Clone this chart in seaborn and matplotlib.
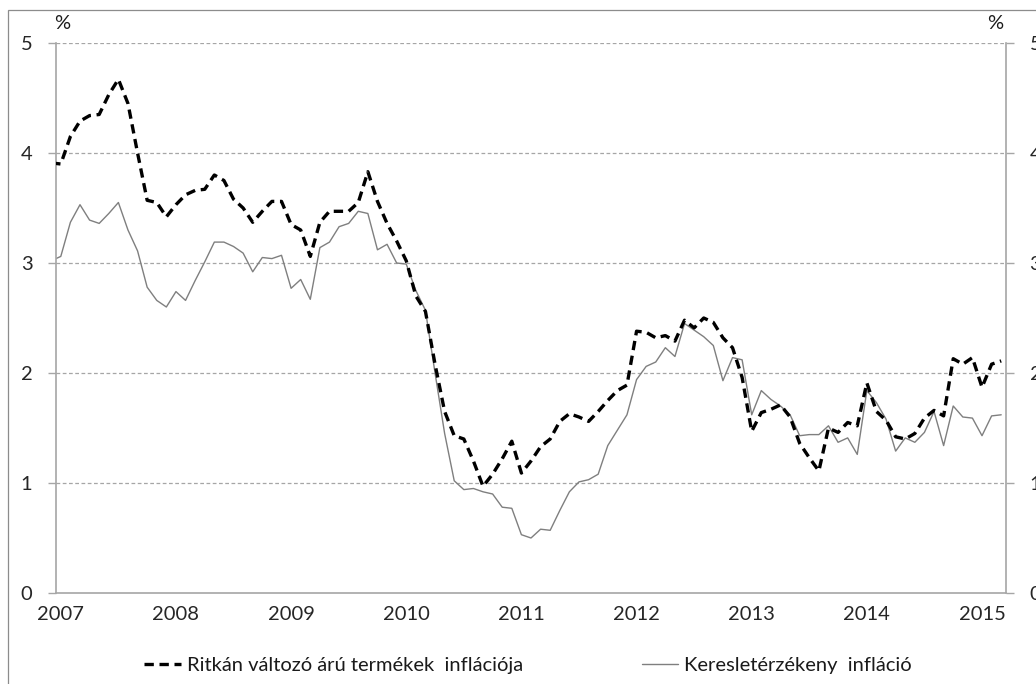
import numpy as np
import pandas as pd
import seaborn as sns
import matplotlib.pyplot as plt
from matplotlib.patches import Rectangle

# monthly data, Dec 2006 - Mar 2015 (the Dec 2006 point is only partly visible at the left edge)
months = pd.period_range("2006-12", "2015-03", freq="M")

# Ritkán változó árú termékek inflációja (%)
rare_change = [
    3.91,
    3.90, 4.15, 4.29, 4.34, 4.35, 4.53, 4.67, 4.45, 4.00, 3.57, 3.55, 3.42,   # 2007
    3.53, 3.62, 3.66, 3.67, 3.80, 3.75, 3.58, 3.50, 3.37, 3.47, 3.56, 3.56,   # 2008
    3.35, 3.30, 3.06, 3.37, 3.47, 3.47, 3.47, 3.55, 3.83, 3.56, 3.36, 3.20,   # 2009
    3.02, 2.70, 2.56, 2.08, 1.65, 1.43, 1.40, 1.20, 0.97, 1.08, 1.22, 1.38,   # 2010
    1.09, 1.20, 1.33, 1.40, 1.56, 1.63, 1.60, 1.56, 1.65, 1.75, 1.84, 1.89,   # 2011
    2.38, 2.37, 2.32, 2.34, 2.29, 2.48, 2.41, 2.50, 2.46, 2.32, 2.23, 1.96,   # 2012
    1.47, 1.64, 1.67, 1.71, 1.60, 1.36, 1.23, 1.11, 1.50, 1.46, 1.55, 1.52,   # 2013
    1.91, 1.65, 1.57, 1.42, 1.40, 1.45, 1.59, 1.66, 1.61, 2.13, 2.08, 2.14,   # 2014
    1.87, 2.08, 2.11,                                                         # 2015
]

# Keresletérzékeny infláció (%)
demand_sensitive = [
    3.02,
    3.06, 3.37, 3.53, 3.39, 3.36, 3.45, 3.55, 3.30, 3.11, 2.78, 2.66, 2.60,   # 2007
    2.74, 2.66, 2.84, 3.01, 3.19, 3.19, 3.15, 3.09, 2.92, 3.05, 3.04, 3.07,   # 2008
    2.77, 2.85, 2.67, 3.14, 3.19, 3.33, 3.36, 3.47, 3.45, 3.12, 3.17, 3.00,   # 2009
    2.99, 2.75, 2.57, 2.00, 1.45, 1.02, 0.94, 0.95, 0.92, 0.90, 0.78, 0.77,   # 2010
    0.53, 0.50, 0.58, 0.57, 0.75, 0.92, 1.01, 1.03, 1.08, 1.34, 1.48, 1.62,   # 2011
    1.94, 2.06, 2.10, 2.23, 2.15, 2.45, 2.39, 2.33, 2.25, 1.93, 2.14, 2.12,   # 2012
    1.62, 1.84, 1.76, 1.70, 1.62, 1.43, 1.44, 1.44, 1.52, 1.37, 1.41, 1.26,   # 2013
    1.84, 1.73, 1.58, 1.29, 1.41, 1.37, 1.46, 1.65, 1.34, 1.70, 1.60, 1.59,   # 2014
    1.43, 1.61, 1.62,                                                         # 2015
]

year_labels = ["2007", "2008", "2009", "2010", "2011", "2012", "2013", "2014", "2015"]
y_ticks = [0, 1, 2, 3, 4, 5]

label_rare = "Ritkán változó árú termékek  inflációja"
label_demand = "Keresletérzékeny  infláció"

df = pd.DataFrame({
    "pos": np.arange(len(months)) - 1,   # Jan 2007 = 0
    "rare": rare_change,
    "demand": demand_sensitive,
})

sns.set_style("white")
plt.rcParams["font.family"] = ["Lato", "DejaVu Sans"]
plt.rcParams["text.color"] = "#1a1a1a"
fs = 14.5

fig = plt.figure(figsize=(10.36, 6.84), dpi=100)
ax = fig.add_axes([56 / 1036, 1 - 593 / 684, 950 / 1036, 550 / 684])

# outer chart frame (the reference is a crop of a larger chart box)
fig.patches.append(Rectangle((8 / 1036, -0.1), 1.2, 1.1 - 10 / 684, transform=fig.transFigure,
                             fill=False, edgecolor="#8c8c8c", lw=0.9))

# gridlines
for v in y_ticks[1:]:
    ax.axhline(v, color="#a6a6a6", lw=0.9, linestyle=(0, (3, 2)), zorder=0)

sns.lineplot(data=df, x="pos", y="demand", ax=ax, color="#7f7f7f", lw=1.0,
             label=label_demand, zorder=2)
sns.lineplot(data=df, x="pos", y="rare", ax=ax, color="black", lw=2.4,
             linestyle=(0, (2.8, 1.7)), label=label_rare, zorder=3)

ax.set_xlim(-0.5, len(months) - 1.5)
ax.set_ylim(0, 5)
ax.set_xlabel("")
ax.set_ylabel("")

# year boundaries as ticks, labels centred on January
ax.set_xticks([-0.5 + 12 * k for k in range(len(year_labels))])
ax.set_xticklabels([])
ax.set_xticks([12 * k for k in range(len(year_labels))], minor=True)
ax.set_xticklabels(year_labels, minor=True)
ax.tick_params(axis="x", which="major", direction="out", length=6, width=1, color="#a6a6a6")
ax.tick_params(axis="x", which="minor", length=0, pad=9, labelsize=fs)

ax.set_yticks(y_ticks)
ax.set_yticklabels([str(v) for v in y_ticks])
ax.tick_params(axis="y", direction="out", length=6, width=1, color="#a6a6a6",
               left=True, right=True, labelleft=True, labelright=True, pad=11, labelsize=fs)

for side in ["left", "right", "bottom"]:
    ax.spines[side].set_color("#a6a6a6")
    ax.spines[side].set_linewidth(1.2)
ax.spines["top"].set_visible(False)

ax.text(-0.002, 1.02, "%", transform=ax.transAxes, ha="left", va="bottom", fontsize=fs)
ax.text(0.997, 1.02, "%", transform=ax.transAxes, ha="right", va="bottom", fontsize=fs)

handles, labels = ax.get_legend_handles_labels()
ax.get_legend().remove()
order = [labels.index(label_rare), labels.index(label_demand)]
fig.legend([handles[i] for i in order], [labels[i] for i in order],
           loc="center", bbox_to_anchor=(528 / 1036, 1 - 665 / 684), ncol=2,
           frameon=False, handlelength=1.8, handletextpad=0.3, columnspacing=5.9,
           fontsize=fs)

fig.savefig("out.png", dpi=100)
